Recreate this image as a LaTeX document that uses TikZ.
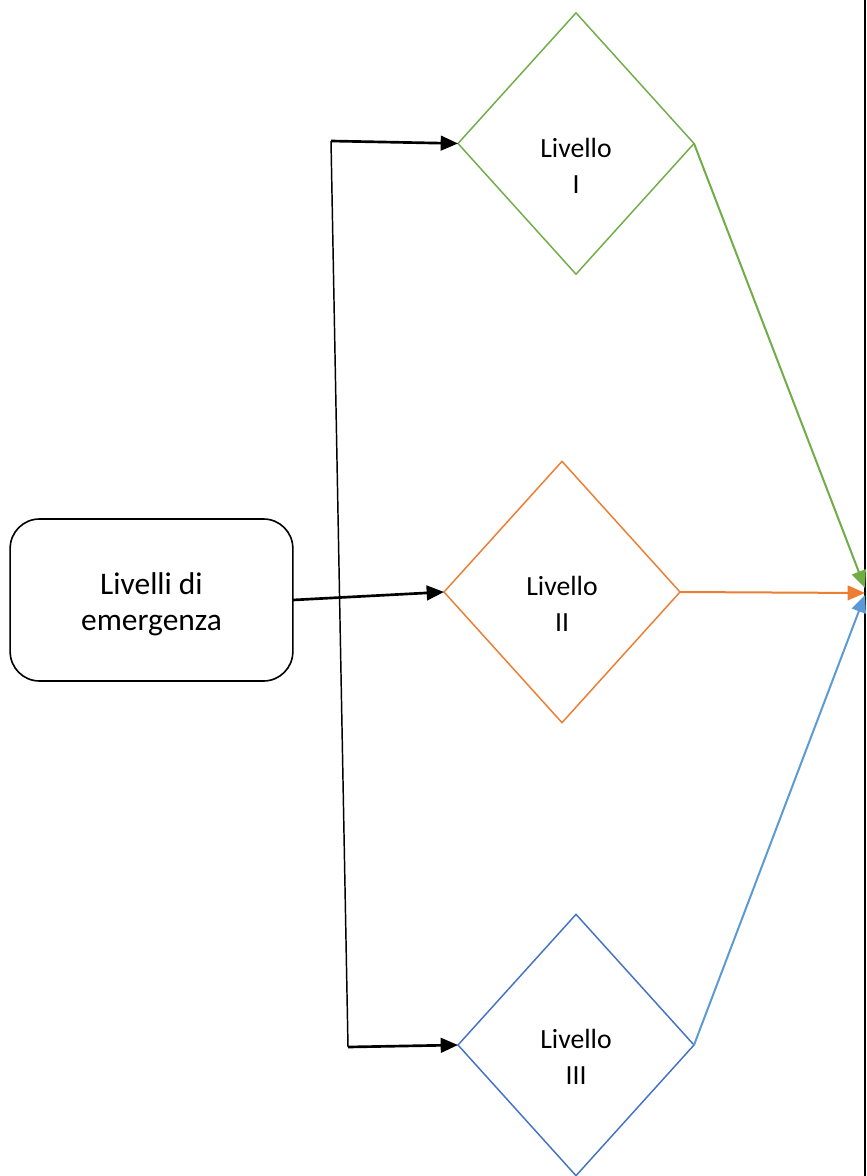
\documentclass[tikz,border=0pt]{standalone}
\usepackage{fontspec}
\setmainfont{Carlito}
\usetikzlibrary{shapes.geometric,arrows.meta,calc}
\definecolor{lvgreen}{HTML}{70AD47}
\definecolor{lvorange}{HTML}{ED7D31}
\definecolor{lvblue}{HTML}{4472C4}
\definecolor{lvlight}{HTML}{5B9BD5}

\begin{document}
\begin{tikzpicture}[x=0.75pt,y=-0.75pt,
  level/.style={diamond, draw=#1, line width=1.1pt, minimum width=177pt,
    minimum height=196pt, inner sep=0pt, outer sep=0pt},
  leveltext/.style={font=\fontsize{20.8}{26.5}\selectfont, align=center, inner sep=0pt},
  root/.style={rectangle, rounded corners=22pt, draw, line width=1.2pt,
    minimum width=212pt, minimum height=121.5pt, inner sep=0pt, outer sep=0pt},
  roottext/.style={font=\fontsize{23.6}{27}\selectfont, align=center, inner sep=0pt},
  feed/.style={line width=2pt, -{Triangle[length=13pt,width=11pt]}},
  trunk/.style={line width=1.1pt},
  merge/.style={line width=1.5pt, draw=#1, -{Triangle[length=13pt,width=11pt]}}
]
\useasboundingbox (0,0) rectangle (866,1176);

% starting box
\node[root] (root) at (151.5,600) {};
\node[roottext] (rootlbl) at (151.5,604) {Livelli di\\emergenza};

% the three levels
\node[level=lvgreen]  (d1) at (576,143.5) {};
\node[level=lvorange] (d2) at (562,592) {};
\node[level=lvblue]   (d3) at (576,1045) {};
\node[leveltext] (t1) at (576,166) {Livello\\I};
\node[leveltext] (t2) at (562,604) {Livello\\II};
\node[leveltext] (t3) at (576,1057) {Livello\\III};

% branching lines
\coordinate (j1) at (331,141);
\coordinate (j3) at (348,1047);
\draw[trunk] (j1) -- (j3);
\draw[feed] (j1) -- (d1.west);
\draw[feed] (j3) -- (d3.west);
\draw[feed] (root.east) -- (d2.west);

% right border and converging arrows
\coordinate (e1) at (865,0);
\coordinate (e2) at (865,1176);
\draw[line width=1.5pt] (e1) -- (e2);
\coordinate (g) at (865,588);
\coordinate (o) at (865,593);
\coordinate (b) at (865,595);
\draw[merge=lvgreen]  (d1.east) -- (g);
\draw[merge=lvorange] (d2.east) -- (o);
\draw[merge=lvlight]  (d3.east) -- (b);
\end{tikzpicture}
\end{document}
